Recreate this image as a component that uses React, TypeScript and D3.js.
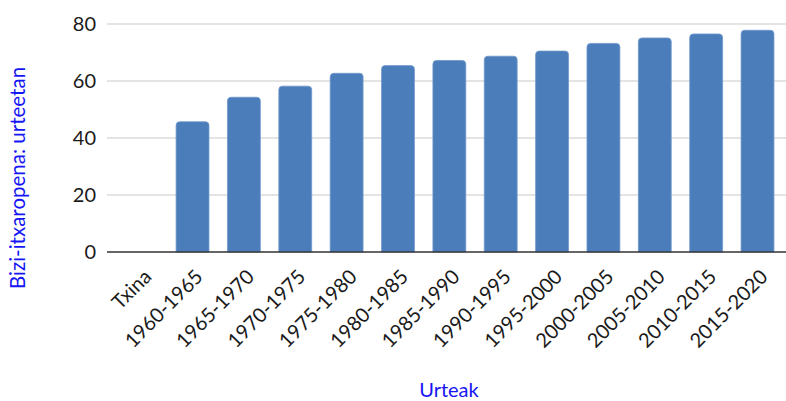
import React from "react";
import * as d3 from "d3";

// Life expectancy at birth (years) in China, by five-year period
const categories: string[] = [
  "Txina",
  "1960-1965",
  "1965-1970",
  "1970-1975",
  "1975-1980",
  "1980-1985",
  "1985-1990",
  "1990-1995",
  "1995-2000",
  "2000-2005",
  "2005-2010",
  "2010-2015",
  "2015-2020",
];
const lifeExpectancy: (number | null)[] = [
  null, 45.7, 54.3, 58.2, 62.7, 65.4, 67.2, 68.7, 70.5, 73.2, 75.1, 76.5, 77.8,
];
const yTicks: number[] = [0, 20, 40, 60, 80];
const xTitle = "Urteak";
const yTitle = "Bizi-itxaropena: urteetan";

const W = 786;
const H = 401;
const FONT = "Lato, 'Noto Sans', sans-serif";

function topRoundedBar(x: number, y: number, w: number, h: number, r: number) {
  const rr = Math.min(r, w / 2, h);
  return `M${x},${y + h}V${y + rr}Q${x},${y} ${x + rr},${y}H${x + w - rr}Q${x + w},${y} ${x + w},${y + rr}V${y + h}Z`;
}

export default function App() {
  const y = d3.scaleLinear().domain([0, 80]).range([252, 24]);
  const x = d3
    .scaleBand<string>()
    .domain(categories)
    .range([115.5, 783.2])
    .paddingInner(0.36)
    .paddingOuter(0.18);
  const plotLeft = 107;
  const plotRight = W;

  return (
    <svg
      width={W}
      height={H}
      style={{ position: "absolute", left: 0, top: 0, background: "#fff" }}
      fontFamily={FONT}
    >
      {/* horizontal grid */}
      {yTicks.map((t) =>
        t === 0 ? null : (
          <line
            key={`g${t}`}
            x1={plotLeft}
            x2={plotRight}
            y1={y(t)}
            y2={y(t)}
            stroke="#c9c9c9"
            strokeWidth={1.2}
          />
        )
      )}
      {/* y tick labels */}
      {yTicks.map((t) => (
        <text
          key={`t${t}`}
          x={96}
          y={y(t)}
          dy="0.36em"
          textAnchor="end"
          fontSize={20}
          fill="#1a1a1a"
        >
          {t}
        </text>
      ))}
      {/* bars */}
      {categories.map((c, i) => {
        const v = lifeExpectancy[i];
        if (v == null) return null;
        const bx = x(c)!;
        const by = y(v);
        return (
          <path
            key={c}
            d={topRoundedBar(bx, by, x.bandwidth(), y(0) - by, 3.5)}
            fill="#4a7dba"
            stroke="#6e98cb"
            strokeWidth={0.8}
          />
        );
      })}
      {/* baseline */}
      <line
        x1={plotLeft}
        x2={plotRight}
        y1={y(0)}
        y2={y(0)}
        stroke="#333"
        strokeWidth={1.5}
      />
      {/* category labels */}
      {categories.map((c) => {
        const cx = x(c)! + x.bandwidth() / 2;
        return (
          <text
            key={`l${c}`}
            transform={`translate(${cx + 11.5},${278}) rotate(-45)`}
            textAnchor="end"
            fontSize={20}
            fill="#1a1a1a"
          >
            {c}
          </text>
        );
      })}
      {/* axis titles */}
      <text
        x={449}
        y={397}
        textAnchor="middle"
        fontSize={20}
        fill="#1515f5"
      >
        {xTitle}
      </text>
      <text
        transform={`translate(25,178) rotate(-90)`}
        textAnchor="middle"
        fontSize={20.5}
        fill="#1515f5"
      >
        {yTitle}
      </text>
    </svg>
  );
}
